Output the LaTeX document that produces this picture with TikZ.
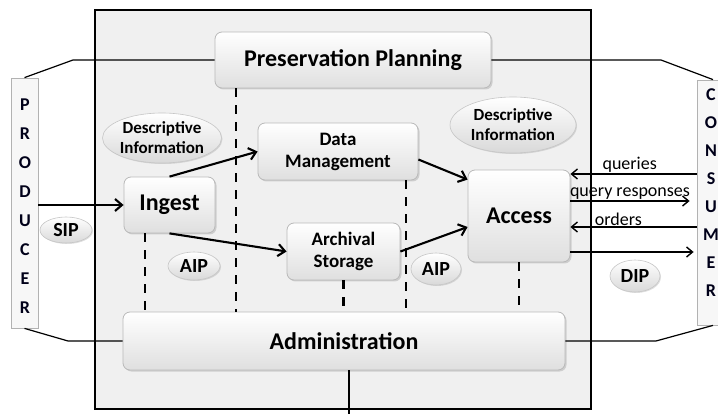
\documentclass[tikz,border=0pt]{standalone}
\usepackage{fontspec}
\setmainfont{Carlito}
\usetikzlibrary{shadows,arrows.meta,shapes.geometric}

\begin{document}
\begin{tikzpicture}[x=1pt,y=-1pt,
  block/.style={draw=gray!55, line width=0.8pt, rounded corners=7pt,
    top color=white, bottom color=gray!25,
    drop shadow={shadow xshift=1.5pt, shadow yshift=-1.5pt, opacity=0.3},
    font=\bfseries, align=center, inner sep=0pt},
  bubble/.style={ellipse, draw=gray!45, line width=0.6pt,
    top color=white, bottom color=gray!30,
    drop shadow={shadow xshift=1pt, shadow yshift=-1pt, opacity=0.25},
    font=\bfseries, align=center, inner sep=0pt},
  side/.style={draw=gray!60, line width=0.8pt, fill=gray!6, inner sep=0pt},
  letters/.style={font=\fontsize{18}{18}\bfseries\selectfont, text=black!90!blue},
  flow/.style={line width=2.1pt, -{Straight Barb[length=7pt,width=12pt]}},
  thin/.style={line width=1.4pt, -{Straight Barb[length=6pt,width=10pt]}},
  link/.style={line width=1.2pt},
  split/.style={line width=2.2pt, dash pattern=on 9pt off 8pt},
  lbl/.style={font=\fontsize{18}{18}\selectfont, inner sep=1pt}]

\useasboundingbox (0,0) rectangle (718,414);

% archive boundary
\node[draw=black, line width=1.4pt, fill=gray!12, minimum width=496pt,
  minimum height=399pt, inner sep=0pt] (oais) at (343,209.5) {};

% external parties
\node[side, minimum width=27pt, minimum height=250pt] (prod) at (24.5,203) {};
\node[side, minimum width=32pt, minimum height=245pt] (cons) at (713,202.5) {};
\foreach \ch [count=\i] in {P,R,O,D,U,C,E,R}
  \node[letters] (p\i) at (25,{76+29*\i}) {\ch};
\foreach \ch [count=\i] in {C,O,N,S,U,M,E,R}
  \node[letters] (c\i) at (711,{67+28*\i}) {\ch};

% functional entities
\node[block, minimum width=276pt, minimum height=56pt,
  font=\fontsize{24}{24}\bfseries\selectfont] (pp) at (353,60) {Preservation Planning};
\node[block, minimum width=442pt, minimum height=58pt,
  font=\fontsize{24}{24}\bfseries\selectfont] (adm) at (344,341) {Administration};
\node[block, minimum width=91pt, minimum height=56pt,
  font=\fontsize{24}{24}\bfseries\selectfont] (ing) at (169.5,205) {Ingest};
\node[block, minimum width=160pt, minimum height=57pt,
  font=\fontsize{19}{22}\bfseries\selectfont] (dm) at (338,151.5) {Data\\Management};
\node[block, minimum width=113pt, minimum height=57pt,
  font=\fontsize{19}{22}\bfseries\selectfont] (as) at (343.5,251.5) {Archival\\Storage};
\node[block, minimum width=102pt, minimum height=92pt,
  font=\fontsize{24}{24}\bfseries\selectfont] (acc) at (519,216) {Access};

% information packages
\node[bubble, minimum width=118pt, minimum height=50pt,
  font=\fontsize{17}{20}\bfseries\selectfont] (di1) at (162,138) {Descriptive\\Information};
\node[bubble, minimum width=126pt, minimum height=56pt,
  font=\fontsize{17}{20}\bfseries\selectfont] (di2) at (513,125) {Descriptive\\Information};
\node[bubble, minimum width=52pt, minimum height=26pt,
  font=\fontsize{20}{20}\bfseries\selectfont] (sip) at (66,230) {SIP};
\node[bubble, minimum width=52pt, minimum height=28pt,
  font=\fontsize{20}{20}\bfseries\selectfont] (aip1) at (194,266) {AIP};
\node[bubble, minimum width=50pt, minimum height=32pt,
  font=\fontsize{20}{20}\bfseries\selectfont] (aip2) at (436,269) {AIP};
\node[bubble, minimum width=50pt, minimum height=32pt,
  font=\fontsize{20}{20}\bfseries\selectfont] (dip) at (635,276) {DIP};

% dashed separators
\draw[split] (pp.south -| 236,0) -- (adm.north -| 236,0);
\draw[split] (ing.south -| 145,0) -- (adm.north -| 145,0);
\draw[split] (dm.south -| 406,0) -- (adm.north -| 406,0);
\draw[split] (as.south) -- (as.south |- adm.north);
\draw[split] (acc.south) -- (acc.south |- adm.north);

% links to producer and consumer
\coordinate (k1) at (73,60);
\coordinate (k2) at (68,341);
\coordinate (k3) at (661,60);
\coordinate (k4) at (656,341);
\draw[link] (pp.west) -- (k1) -- (prod.north);
\draw[link] (adm.west) -- (k2) -- (prod.south);
\draw[link] (pp.east) -- (k3) -- (cons.north);
\draw[link] (adm.east) -- (k4) -- (cons.south);
\coordinate (bot) at (349,416);
\draw[link] (adm.south -| bot) -- (bot);

% data flows
\draw[flow] (prod.east |- ing.west) -- (ing.west);
\draw[flow] (ing.north) -- (dm.west);
\draw[flow] (ing.south) -- (as.west);
\draw[flow] ([yshift=-8pt]dm.east) -- ([yshift=-10pt]acc.north west);
\draw[flow] (as.east) -- ([yshift=-11pt]acc.west);

% consumer interface
\draw[thin] (cons.west |- 0,174) -- (acc.east |- 0,174)
  node[lbl, pos=0.53, above] {queries};
\draw[thin] (acc.east |- 0,201) -- ([xshift=-7pt]cons.west |- 0,201)
  node[lbl, pos=0.5, above] {query responses};
\draw[thin] (cons.west |- 0,227) -- (acc.east |- 0,227)
  node[lbl, pos=0.62, above] {orders};
\draw[thin] (acc.east |- 0,252) -- ([xshift=-3pt]cons.west |- 0,252);

\end{tikzpicture}
\end{document}
